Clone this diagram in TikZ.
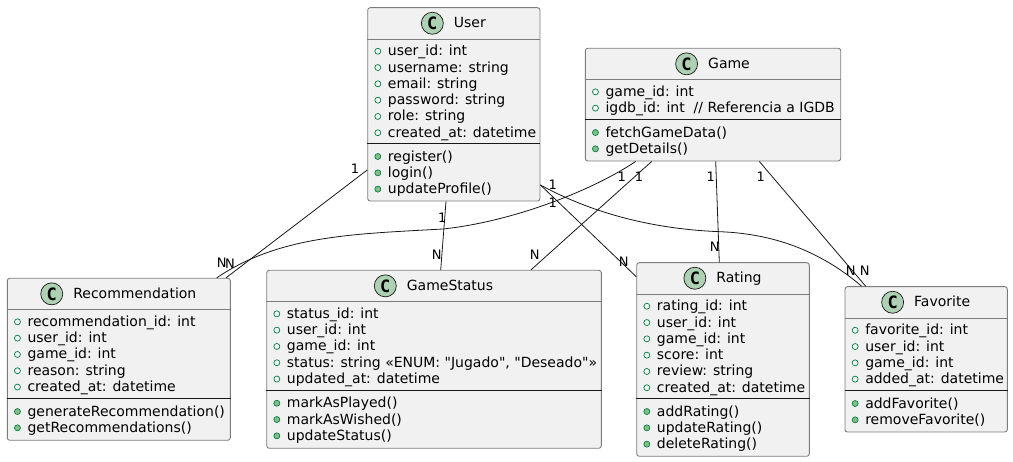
\documentclass[tikz,border=0pt]{standalone}
\usepackage{fontspec}
\newfontfamily\umlfont{DejaVu Sans}
\newfontfamily\iconfont{DejaVu Sans Mono}
\usetikzlibrary{positioning}
\definecolor{umlline}{HTML}{181818}
\definecolor{umledge}{HTML}{7C7C7C}
\definecolor{umlfill}{HTML}{F1F1F1}
\definecolor{umlicon}{HTML}{ADD1B2}
\definecolor{umlvis}{HTML}{038048}
\definecolor{umlmeth}{HTML}{84BE84}
\tikzset{
	classbox/.style={draw=umledge, fill=umlfill, line width=0.9pt, rounded corners=2.5pt, inner sep=0pt},
	classtitle/.style={inner sep=0pt, text height=10pt, text depth=0.6pt, font=\umlfont\fontsize{14}{16}\selectfont},
	classicon/.style={circle, draw=umlline, fill=umlicon, line width=0.7pt, minimum size=22pt, inner sep=0pt, font=\iconfont\bfseries\fontsize{17}{17}\selectfont},
	rowtext/.style={anchor=base west, inner sep=0pt, font=\umlfont\fontsize{14}{16}\selectfont},
	fieldmark/.style={circle, draw=umlvis, line width=0.7pt, minimum size=6pt, inner sep=0pt},
	methodmark/.style={circle, draw=umlvis, fill=umlmeth, line width=0.7pt, minimum size=6pt, inner sep=0pt},
	assoc/.style={draw=umlline, line width=0.8pt},
	mult/.style={inner sep=0pt, font=\umlfont\fontsize{13}{15}\selectfont}
}
\newcommand{\classhead}[2]{
	\node[classtitle] (#1title) at ([xshift=16pt,yshift=-16pt]#1.north) {#2};
	\node[classicon, left=10pt of #1title] (#1icon) {C};
	\draw[umledge, line width=0.9pt] ([yshift=-32pt]#1.north west) -- ([yshift=-32pt]#1.north east);
}
\newcommand{\classsep}[2]{
	\draw[umlline, line width=1pt] ([yshift=-#2pt]#1.north west) -- ([yshift=-#2pt]#1.north east);
}
\newcommand{\classrows}[4]{
	\foreach \txt [count=\i] in {#4} {
		\pgfmathsetmacro{\rowy}{#3+(\i-1)*16.3}
		\node[#2] (#1#2\i) at ([xshift=10.6pt,yshift=-\rowy pt]#1.north west) {};
		\node[rowtext] (#1#2text\i) at ([xshift=20.5pt,yshift=-\rowy pt-4.5pt]#1.north west) {\txt};
	}
}
\begin{document}
\begin{tikzpicture}[x=1pt,y=-1pt]
	\useasboundingbox (0,0) rectangle (1013,462);

	\node[classbox, minimum width=172.3pt, minimum height=193.3pt] (user) at (453.85,104.35) {};
	\classhead{user}{User}
	\classrows{user}{fieldmark}{44}{user\_id: int, username: string, email: string, password: string, role: string, created\_at: datetime}
	\classsep{user}{136.6}
	\classrows{user}{methodmark}{149.3}{register(), login(), updateProfile()}

	\node[classbox, minimum width=255.4pt, minimum height=112.7pt] (game) at (713,104.65) {};
	\classhead{game}{Game}
	\classrows{game}{fieldmark}{44}{game\_id: int, {igdb\_id: int\ \ // Referencia a IGDB}}
	\classsep{game}{72}
	\classrows{game}{methodmark}{84.7}{fetchGameData(), getDetails()}

	\node[classbox, minimum width=223pt, minimum height=162pt] (rec) at (118.8,359.3) {};
	\classhead{rec}{Recommendation}
	\classrows{rec}{fieldmark}{44}{recommendation\_id: int, user\_id: int, game\_id: int, reason: string, created\_at: datetime}
	\classsep{rec}{121}
	\classrows{rec}{methodmark}{133.7}{generateRecommendation(), getRecommendations()}

	\node[classbox, minimum width=334.6pt, minimum height=178pt] (status) at (434,359.3) {};
	\classhead{status}{GameStatus}
	\classrows{status}{fieldmark}{44}{status\_id: int, user\_id: int, game\_id: int, {status: string «ENUM: "Jugado", "Deseado"»}, updated\_at: datetime}
	\classsep{status}{120.7}
	\classrows{status}{methodmark}{133.4}{markAsPlayed(), markAsWished(), updateStatus()}

	\node[classbox, minimum width=172.6pt, minimum height=193.6pt] (rating) at (723,359.5) {};
	\classhead{rating}{Rating}
	\classrows{rating}{fieldmark}{44}{rating\_id: int, user\_id: int, game\_id: int, score: int, review: string, created\_at: datetime}
	\classsep{rating}{136.6}
	\classrows{rating}{methodmark}{149.3}{addRating(), updateRating(), deleteRating()}

	\node[classbox, minimum width=162.3pt, minimum height=145.3pt] (fav) at (926.15,359.35) {};
	\classhead{fav}{Favorite}
	\classrows{fav}{fieldmark}{44}{favorite\_id: int, user\_id: int, game\_id: int, added\_at: datetime}
	\classsep{fav}{104.6}
	\classrows{fav}{methodmark}{117.3}{addFavorite(), removeFavorite()}

	\draw[assoc] ([yshift=-65.65pt]user.west) -- ([xshift=107.2pt]rec.north);
	\draw[assoc] ([xshift=-7.85pt]user.south) -- ([xshift=6.7pt]status.north);
	\draw[assoc] ([yshift=-80.65pt]user.east) -- ([yshift=82.8pt]rating.west);
	\draw[assoc] ([yshift=-80.65pt]user.east) .. controls (590,212) and (650,229) .. (720,231.7) .. controls (780,234) and (825,255) .. ([xshift=-64.45pt]fav.north);
	\draw[assoc] ([xshift=-77.3pt]game.south) .. controls (590,192) and (510,222) .. (443,229) .. controls (355,234) and (280,235) .. ([xshift=97.9pt]rec.north);
	\draw[assoc] ([xshift=-61.3pt]game.south) -- ([xshift=97pt]status.north);
	\draw[assoc] ([xshift=2.7pt]game.south) -- ([xshift=-3.7pt]rating.north);
	\draw[assoc] ([xshift=46.3pt]game.south) -- ([xshift=-60.45pt]fav.north);

	\node[mult] (userrec1) at (355,168.3) {1};
	\node[mult] (userrecN) at (230,263.3) {N};
	\node[mult] (userstatus1) at (442.3,217.7) {1};
	\node[mult] (userstatusN) at (436.7,254.3) {N};
	\node[mult] (userrating1) at (552.7,202.3) {1};
	\node[mult] (userratingN) at (623.7,261.3) {N};
	\node[mult] (userfav1) at (552.7,184.3) {1};
	\node[mult] (userfavN) at (850.7,271) {N};
	\node[mult] (gamerec1) at (621.7,176.7) {1};
	\node[mult] (gamerecN) at (221.7,262.7) {N};
	\node[mult] (gamestatus1) at (639,176.7) {1};
	\node[mult] (gamestatusN) at (534.7,254.3) {N};
	\node[mult] (gamerating1) at (710.7,176.7) {1};
	\node[mult] (gameratingN) at (714.7,246.7) {N};
	\node[mult] (gamefav1) at (760.7,176.7) {1};
	\node[mult] (gamefavN) at (864.7,270.3) {N};
\end{tikzpicture}
\end{document}
